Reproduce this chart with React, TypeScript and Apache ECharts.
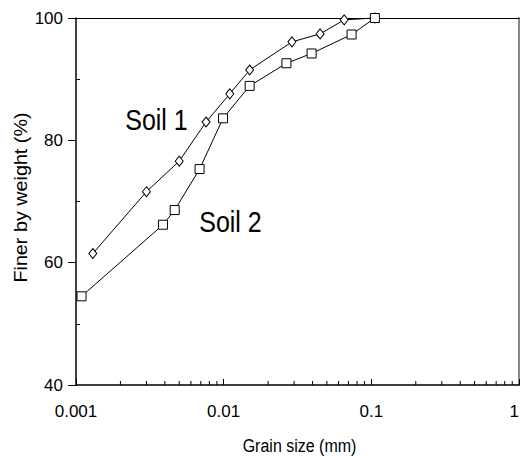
import React, { useEffect, useRef } from "react";
import * as echarts from "echarts";

const soil1X = [0.0013, 0.003, 0.005, 0.0076, 0.011, 0.015, 0.029, 0.045, 0.0655, 0.1057];
const soil1Y = [61.5, 71.6, 76.6, 83.0, 87.6, 91.5, 96.1, 97.4, 99.7, 100];
const soil2X = [0.00109, 0.00388, 0.00466, 0.00687, 0.0099, 0.015, 0.0266, 0.0394, 0.0735, 0.1057];
const soil2Y = [54.5, 66.2, 68.6, 75.3, 83.6, 88.9, 92.6, 94.2, 97.3, 100];

const xTickLabels = ["0.001", "0.01", "0.1", "1"];
const xMinorTicks = [
  0.002, 0.003, 0.004, 0.005, 0.006, 0.007, 0.008, 0.009,
  0.02, 0.03, 0.04, 0.05, 0.06, 0.07, 0.08, 0.09,
  0.2, 0.3, 0.4, 0.5, 0.6, 0.7, 0.8, 0.9,
];
const yMinorTicks = [50, 70, 90];

const FONT = "'Liberation Sans', Arial, sans-serif";

export default function App() {
  const ref = useRef<HTMLDivElement>(null);
  useEffect(() => {
    if (!ref.current) return;
    const chart = echarts.init(ref.current, undefined, { renderer: "svg" });
    chart.setOption({
      animation: false,
      backgroundColor: "#fff",
      grid: { left: 76, right: 2, top: 18, bottom: 71, containLabel: false, outerBoundsMode: "none" },
      textStyle: { fontFamily: FONT },
      xAxis: [
        {
          type: "log",
          logBase: 10,
          min: 0.001,
          max: 1,
          position: "bottom",
          axisLine: { show: true, onZero: false, lineStyle: { color: "#000", width: 1.5 } },
          axisTick: { show: true, inside: true, length: 6, lineStyle: { color: "#000" } },
          splitLine: { show: false },
          minorTick: { show: false },
          axisLabel: {
            fontSize: 17,
            color: "#000",
            fontFamily: FONT,
            margin: 18,
            alignMaxLabel: "right",
            formatter: (v: number) => xTickLabels[Math.round(Math.log10(v)) + 3] ?? "",
          },
        },
        {
          type: "log",
          logBase: 10,
          min: 0.001,
          max: 1,
          position: "top",
          axisLine: { show: true, onZero: false, lineStyle: { color: "#000", width: 1 } },
          axisTick: { show: false },
          axisLabel: { show: false },
          splitLine: { show: false },
        },
      ],
      yAxis: [
        {
          type: "value",
          min: 40,
          max: 100,
          interval: 20,
          position: "left",
          axisLine: { show: true, onZero: false, lineStyle: { color: "#000", width: 1.5 } },
          axisTick: { show: true, inside: false, length: 8, lineStyle: { color: "#000" } },
          splitLine: { show: false },
          axisLabel: { fontSize: 17, color: "#000", fontFamily: FONT, margin: 13 },
        },
        {
          type: "value",
          min: 40,
          max: 100,
          position: "left",
          axisLine: { show: false },
          axisTick: {
            show: true,
            inside: true,
            length: 4,
            customValues: yMinorTicks,
            lineStyle: { color: "#000" },
          },
          axisLabel: { show: false },
          splitLine: { show: false },
        },
        {
          type: "value",
          min: 40,
          max: 100,
          position: "right",
          axisLine: { show: true, onZero: false, lineStyle: { color: "#888", width: 2 } },
          axisTick: { show: false },
          axisLabel: { show: false },
          splitLine: { show: false },
        },
      ],
      series: [
        {
          name: "xMinorTicks",
          type: "custom",
          xAxisIndex: 0,
          yAxisIndex: 0,
          silent: true,
          clip: false,
          data: xMinorTicks.map((v) => [v, 40]),
          renderItem: (_params: any, api: any) => {
            const p = api.coord([api.value(0), api.value(1)]);
            return {
              type: "line",
              shape: { x1: p[0], y1: p[1], x2: p[0], y2: p[1] - 4 },
              style: { stroke: "#000", lineWidth: 1 },
            };
          },
        },
        {
          name: "Soil 1",
          type: "line",
          data: soil1X.map((x, i) => [x, soil1Y[i]]),
          symbol: "diamond",
          symbolSize: [8, 10],
          clip: false,
          lineStyle: { color: "#000", width: 1 },
          itemStyle: { color: "#fff", borderColor: "#000", borderWidth: 1 },
        },
        {
          name: "Soil 2",
          type: "line",
          data: soil2X.map((x, i) => [x, soil2Y[i]]),
          symbol: "rect",
          symbolSize: 9,
          clip: false,
          lineStyle: { color: "#000", width: 1 },
          itemStyle: { color: "#fff", borderColor: "#000", borderWidth: 1 },
        },
      ],
      graphic: [
        {
          type: "text",
          x: 156.5,
          y: 120,
          scaleY: 1.2,
          style: {
            text: "Soil 1",
            fontSize: 25,
            fontFamily: FONT,
            fill: "#000",
            align: "center",
            verticalAlign: "middle",
          },
        },
        {
          type: "text",
          x: 230.5,
          y: 221.5,
          scaleY: 1.2,
          style: {
            text: "Soil 2",
            fontSize: 25,
            fontFamily: FONT,
            fill: "#000",
            align: "center",
            verticalAlign: "middle",
          },
        },
        {
          type: "text",
          x: 299.5,
          y: 446,
          scaleY: 1.1,
          style: {
            text: "Grain size (mm)",
            fontSize: 16,
            fontFamily: FONT,
            fill: "#000",
            align: "center",
            verticalAlign: "middle",
          },
        },
        {
          type: "text",
          x: 20,
          y: 197.5,
          rotation: Math.PI / 2,
          scaleX: 1.04,
          style: {
            text: "Finer by weight (%)",
            fontSize: 19,
            fontFamily: FONT,
            fill: "#000",
            align: "center",
            verticalAlign: "middle",
          },
        },
      ],
    });
    return () => chart.dispose();
  }, []);
  return (
    <div
      ref={ref}
      style={{ position: "fixed", left: 0, top: 0, width: 521, height: 456, background: "#fff" }}
    />
  );
}
